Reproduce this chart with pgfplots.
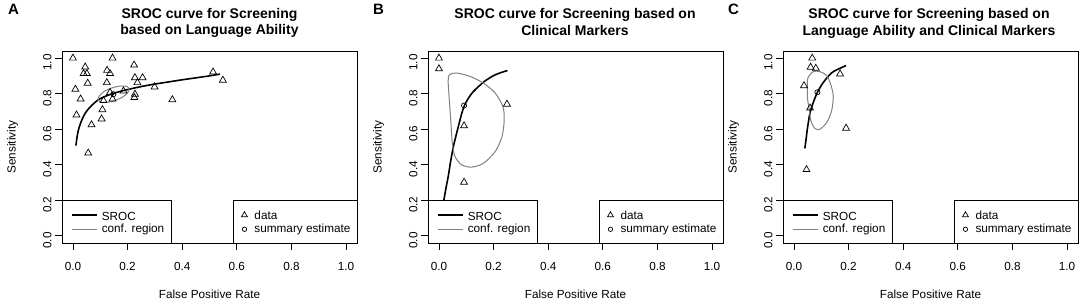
\documentclass[border=0pt]{standalone}
\usepackage{fontspec}
\setmainfont{Liberation Sans}
\usepackage{pgfplots}
\pgfplotsset{compat=1.18}
\definecolor{cgray}{gray}{0.5}
\newcommand{\lfont}{\fontsize{11.75}{14}\selectfont}
\pgfplotsset{
 roc/.style={
  scale only axis, width=295pt, height=192pt,
  xmin=-0.04, xmax=1.04, ymin=-0.04, ymax=1.04,
  xtick={0,0.2,0.4,0.6,0.8,1}, ytick={0,0.2,0.4,0.6,0.8,1},
  xtick pos=bottom, ytick pos=left, tick align=outside,
  major tick length=7pt,
  axis line style={line width=0.8pt},
  every tick/.style={black, line width=0.8pt},
  /pgf/number format/fixed, /pgf/number format/fixed zerofill,
  /pgf/number format/precision=1, /pgf/number format/assume math mode=true,
  tick label style={font=\lfont},
  xlabel={False Positive Rate}, ylabel={Sensitivity},
  every axis x label/.style={at={(axis description cs:0.5,0)}, yshift=-51pt, anchor=center, font=\lfont},
  every axis y label/.style={at={(axis description cs:0,0.5)}, xshift=-49.5pt, rotate=90, anchor=center, font=\lfont},
  yticklabel style={rotate=90, anchor=south, xshift=-4.5pt},
  xticklabel style={anchor=north, yshift=-8.5pt},
  axis on top, clip=false,
 },
 datam/.style={only marks, mark=triangle, mark size=4pt, mark options={line width=0.7pt, draw=black, fill=none}},
 summ/.style={only marks, mark=o, mark size=2.6pt, mark options={line width=0.7pt, draw=black}},
 sroc/.style={no marks, black, line width=1.6pt, smooth},
 conf/.style={no marks, cgray, line width=1pt, smooth cycle},
}
\newcommand{\roclegend}{%
  \draw[line width=0.8pt, fill=white] (axis cs:-0.04,-0.04) rectangle (axis cs:0.361,0.2);
  \draw[line width=0.8pt, fill=white] (axis cs:0.588,-0.04) rectangle (axis cs:1.04,0.2);
  \draw[line width=1.6pt, black] (axis cs:-0.004,0.117) -- (axis cs:0.088,0.117);
  \draw[line width=1pt, cgray] (axis cs:-0.004,0.037) -- (axis cs:0.088,0.037);
  \node[anchor=base west, inner sep=0pt, font=\lfont] at (axis cs:0.105,0.089) {SROC};
  \node[anchor=base west, inner sep=0pt, font=\lfont] at (axis cs:0.105,0.021) {conf. region};
  \draw[line width=0.7pt] (axis cs:0.628,0.117) ++(0pt,3.4pt) -- ++(-2.95pt,-5.1pt) -- ++(5.9pt,0pt) -- cycle;
  \draw[line width=0.7pt] (axis cs:0.628,0.037) circle (2.2pt);
  \node[anchor=base west, inner sep=0pt, font=\lfont] at (axis cs:0.664,0.093) {data};
  \node[anchor=base west, inner sep=0pt, font=\lfont] at (axis cs:0.664,0.021) {summary estimate};
}
\begin{document}
\begin{tikzpicture}[x=1pt,y=1pt]
\useasboundingbox (0,0) rectangle (1084,305);
% ---------------- Panel A
\begin{axis}[roc, at={(62pt,62pt)}, anchor=south west]
\addplot[datam] coordinates {
(0.000,1.000) (0.145,1.000) (0.045,0.950) (0.039,0.913) (0.051,0.913)
(0.125,0.931) (0.136,0.913) (0.224,0.961) (0.054,0.859) (0.124,0.862)
(0.227,0.890) (0.255,0.890) (0.236,0.862) (0.299,0.838) (0.513,0.922)
(0.549,0.876) (0.009,0.825) (0.028,0.770) (0.364,0.766) (0.013,0.680)
(0.068,0.625) (0.056,0.466) (0.108,0.710) (0.105,0.658) (0.112,0.761)
(0.145,0.770) (0.136,0.807) (0.225,0.778) (0.227,0.797) (0.185,0.815)
};
\addplot[sroc] coordinates {
(0.011,0.508) (0.015,0.555) (0.020,0.595) (0.027,0.630) (0.035,0.660)
(0.045,0.690) (0.060,0.720) (0.080,0.750) (0.100,0.772) (0.130,0.792)
(0.160,0.807) (0.200,0.823) (0.250,0.840) (0.300,0.854) (0.350,0.866)
(0.400,0.878) (0.450,0.889) (0.500,0.900) (0.538,0.910)
};
\addplot[conf] coordinates {
(0.205,0.830) (0.201,0.807) (0.184,0.783) (0.157,0.763) (0.128,0.752)
(0.104,0.752) (0.092,0.765) (0.096,0.786) (0.113,0.811) (0.140,0.831)
(0.170,0.842) (0.194,0.842)
};
\addplot[summ] coordinates {(0.148,0.797)};
\roclegend
\end{axis}
% ---------------- Panel B
\begin{axis}[roc, at={(428pt,62pt)}, anchor=south west]
\addplot[datam] coordinates {
(0.000,1.000) (0.000,0.940) (0.249,0.741) (0.092,0.619) (0.092,0.302)
};
\addplot[sroc] coordinates {
(0.012,0.140) (0.018,0.200) (0.026,0.270) (0.034,0.334) (0.043,0.420)
(0.053,0.503) (0.062,0.560) (0.071,0.615) (0.082,0.680) (0.092,0.728)
(0.108,0.775) (0.126,0.812) (0.145,0.840) (0.163,0.865) (0.185,0.888)
(0.206,0.906) (0.230,0.920) (0.251,0.930)
};
\addplot[conf] coordinates {
(0.034,0.859) (0.038,0.906) (0.065,0.916) (0.114,0.897) (0.163,0.859)
(0.206,0.803) (0.234,0.728) (0.239,0.653) (0.231,0.559) (0.206,0.474)
(0.163,0.409) (0.120,0.387) (0.083,0.400) (0.059,0.446) (0.049,0.522)
(0.044,0.634) (0.038,0.765)
};
\addplot[summ] coordinates {(0.092,0.733)};
\roclegend
\end{axis}
% ---------------- Panel C
\begin{axis}[roc, at={(783pt,62pt)}, anchor=south west]
\addplot[datam] coordinates {
(0.067,1.000) (0.061,0.949) (0.080,0.943) (0.037,0.845) (0.169,0.911)
(0.059,0.719) (0.191,0.606) (0.046,0.373)
};
\addplot[sroc] coordinates {
(0.040,0.492) (0.045,0.550) (0.049,0.600) (0.054,0.650) (0.059,0.694)
(0.071,0.751) (0.086,0.808) (0.108,0.864) (0.138,0.917) (0.169,0.943)
(0.191,0.958)
};
\addplot[conf] coordinates {
(0.071,0.924) (0.095,0.924) (0.120,0.902) (0.134,0.855) (0.144,0.788)
(0.138,0.704) (0.120,0.638) (0.095,0.600) (0.077,0.604) (0.062,0.647)
(0.056,0.713) (0.050,0.770) (0.049,0.836) (0.052,0.892)
};
\addplot[summ] coordinates {(0.086,0.808)};
\roclegend
\end{axis}
% ---------------- Titles and panel letters
\begin{scope}[every node/.style={inner sep=0pt, font=\bfseries\fontsize{14}{17}\selectfont}]
\node[anchor=base] at (209.5,286.7) {SROC curve for Screening};
\node[anchor=base] at (209.5,270) {based on Language Ability};
\node[anchor=base] at (575,286.3) {SROC curve for Screening based on};
\node[anchor=base] at (575,269.5) {Clinical Markers};
\node[anchor=base] at (929,286.3) {SROC curve for Screening based on};
\node[anchor=base] at (929,269.5) {Language Ability and Clinical Markers};
\end{scope}
\begin{scope}[every node/.style={inner sep=0pt, anchor=base west, font=\bfseries\fontsize{15}{18}\selectfont}]
\node at (8,290) {A};
\node at (373,290) {B};
\node at (728,290) {C};
\end{scope}
\end{tikzpicture}
\end{document}
